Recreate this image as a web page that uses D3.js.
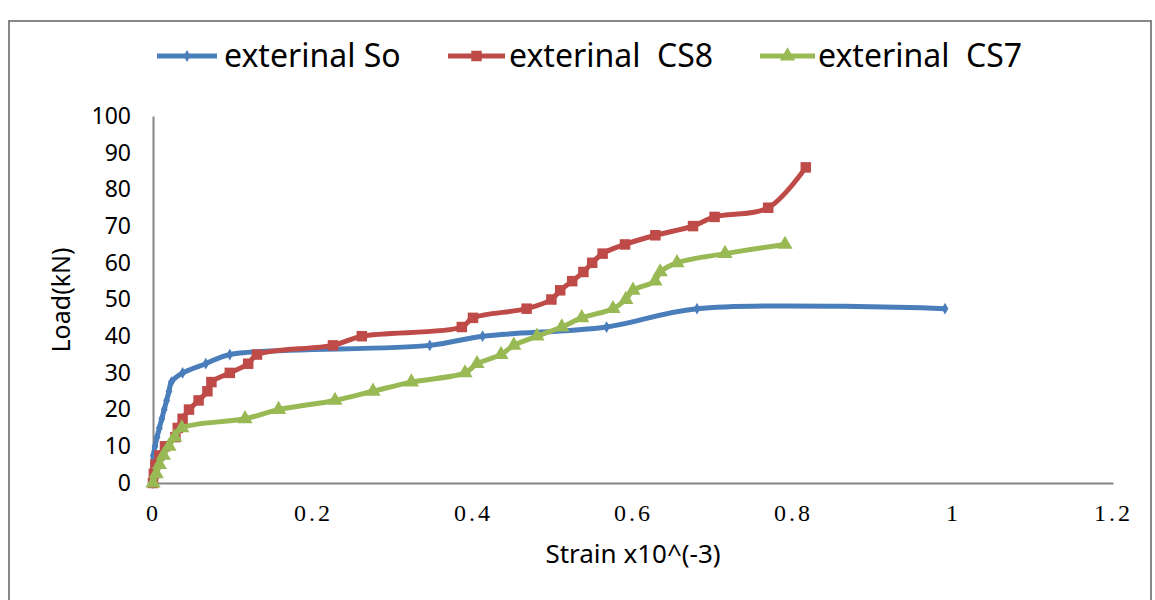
<!DOCTYPE html>
<html>
<head>
<meta charset="utf-8">
<script src="https://cdn.jsdelivr.net/npm/d3@7"></script>
<style>
  body { margin: 0; background: #fff; }
  text { font-family: "Noto Sans", "Open Sans", sans-serif; }
</style>
</head>
<body>
<div id="chart"></div>
<script>
// strain (x10^-3) and load (kN)
const soStrain = [0, 0.0004, 0.0025, 0.005, 0.008, 0.011, 0.014, 0.017, 0.02, 0.023, 0.037, 0.066, 0.096, 0.346, 0.412, 0.567, 0.68, 0.99];
const soLoad   = [0, 7.5, 10, 12.5, 15, 17.5, 20, 22.5, 25, 27.5, 30, 32.5, 35, 37.5, 40, 42.5, 47.5, 47.5];

const cs8Strain = [0, 0.001, 0.003, 0.008, 0.015, 0.028, 0.031, 0.037, 0.045, 0.057, 0.068, 0.073, 0.096, 0.119, 0.13, 0.225, 0.261, 0.386, 0.4, 0.467, 0.498, 0.509, 0.524, 0.538, 0.549, 0.562, 0.59, 0.628, 0.675, 0.702, 0.769, 0.816];
const cs8Load   = [0, 2.5, 5, 7.5, 10, 12.5, 15, 17.5, 20, 22.5, 25, 27.5, 30, 32.5, 35, 37.5, 40, 42.5, 45, 47.5, 50, 52.5, 55, 57.5, 60, 62.5, 65, 67.5, 70, 72.5, 75, 86];

const cs7Strain = [0, 0.004, 0.008, 0.013, 0.02, 0.027, 0.036, 0.115, 0.157, 0.2275, 0.275, 0.323, 0.39, 0.405, 0.435, 0.451, 0.48, 0.511, 0.536, 0.575, 0.591, 0.6, 0.6275, 0.634, 0.655, 0.715, 0.79];
const cs7Load   = [0, 2.5, 5, 7.5, 10, 12.5, 15, 17.5, 20, 22.5, 25, 27.5, 30, 32.5, 35, 37.5, 40, 42.5, 45, 47.5, 50, 52.5, 55, 57.5, 60, 62.5, 65];

const seriesNames = ["exterinal So", "exterinal  CS8", "exterinal  CS7"];
const xTicks = [0, 0.2, 0.4, 0.6, 0.8, 1, 1.2];
const yTicks = [0, 10, 20, 30, 40, 50, 60, 70, 80, 90, 100];

const width = 1155, height = 600;
const colors = ["#4a7ebb", "#be4b48", "#98b954"];
const shapes = [d3.symbolDiamond, d3.symbolSquare, d3.symbolTriangle];
const symSize = [40, 110, 100];

const svg = d3.select("#chart").append("svg")
  .attr("width", width).attr("height", height);

// chart frame
svg.append("rect")
  .attr("x", 9).attr("y", 21).attr("width", 1142).attr("height", 620)
  .attr("fill", "none").attr("stroke", "#868686").attr("stroke-width", 2);

const x = d3.scaleLinear().domain([0, 1.2]).range([153, 1113]);
const y = d3.scaleLinear().domain([0, 100]).range([483, 116]);

// axes
const xAxis = svg.append("g").attr("transform", `translate(0,${y(0)})`)
  .call(d3.axisBottom(x).tickValues(xTicks).tickSize(0).tickPadding(21)
    .tickFormat(d => d === 0 || d === 1 ? String(d) : d3.format(".1f")(d)));
xAxis.select(".domain").attr("stroke", "#868686").attr("stroke-width", 2);
xAxis.selectAll("text")
  .style("font-family", "'Liberation Serif', serif")
  .style("font-size", "24px").style("letter-spacing", "3px")
  .attr("fill", "#000");

const yAxis = svg.append("g").attr("transform", `translate(${x(0)},0)`)
  .call(d3.axisLeft(y).tickValues(yTicks).tickSize(0).tickPadding(22));
yAxis.select(".domain").attr("stroke", "#868686").attr("stroke-width", 2);
yAxis.selectAll("text").style("font-size", "23px").attr("fill", "#000");

// axis titles
svg.append("text")
  .attr("transform", "translate(70,300) rotate(-90)")
  .attr("text-anchor", "middle")
  .style("font-size", "25px")
  .text("Load(kN)");
svg.append("text")
  .attr("x", 633).attr("y", 563)
  .attr("text-anchor", "middle")
  .style("font-size", "26px")
  .text("Strain x10^(-3)");

// series
const allSeries = [
  d3.zip(soStrain, soLoad),
  d3.zip(cs8Strain, cs8Load),
  d3.zip(cs7Strain, cs7Load)
];

const line = d3.line()
  .x(d => x(d[0])).y(d => y(d[1]))
  .curve(d3.curveCatmullRom.alpha(0.5));

allSeries.forEach((pts, i) => {
  const g = svg.append("g");
  g.append("path")
    .attr("d", line(pts))
    .attr("fill", "none")
    .attr("stroke", colors[i])
    .attr("stroke-width", 5)
    .attr("stroke-linejoin", "round");
  g.selectAll("path.mark").data(pts).enter().append("path")
    .attr("class", "mark")
    .attr("transform", d => `translate(${x(d[0])},${y(d[1])})`)
    .attr("d", d3.symbol().type(shapes[i]).size(symSize[i]))
    .attr("fill", colors[i]);
});

// legend
const legendX = [157, 448, 760];
const legendLen = [60, 57, 55];
const legendTextX = [224, 509, 818];
seriesNames.forEach((name, i) => {
  const lg = svg.append("g").attr("transform", `translate(${legendX[i]},56)`);
  lg.append("line")
    .attr("x1", 0).attr("x2", legendLen[i]).attr("y1", 0).attr("y2", 0)
    .attr("stroke", colors[i]).attr("stroke-width", 5);
  lg.append("path")
    .attr("transform", `translate(${legendLen[i] / 2},0)`)
    .attr("d", d3.symbol().type(shapes[i]).size(symSize[i]))
    .attr("fill", colors[i]);
  svg.append("text")
    .attr("x", legendTextX[i]).attr("y", 67)
    .style("font-size", "32px")
    .attr("xml:space", "preserve")
    .style("white-space", "pre")
    .text(name);
});
</script>
</body>
</html>
